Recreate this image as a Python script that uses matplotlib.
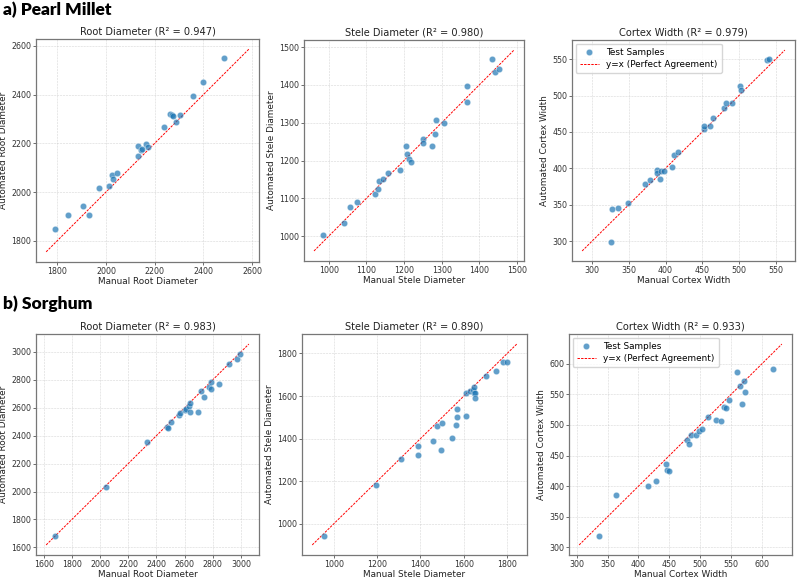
import matplotlib.pyplot as plt
import numpy as np

# pearl millet - manual vs automated
pm_root_manual = [1792, 1844, 1905, 1929, 1970, 2012, 2026, 2027, 2044, 2131, 2131, 2142, 2149,
                  2164, 2174, 2237, 2261, 2271, 2274, 2286, 2303, 2357, 2397, 2484]
pm_root_auto = [1848, 1904, 1943, 1907, 2017, 2024, 2069, 2052, 2079, 2190, 2148, 2172, 2175,
                2196, 2185, 2269, 2322, 2315, 2311, 2288, 2318, 2394, 2453, 2549]

pm_stele_manual = [985, 1041, 1057, 1074, 1124, 1130, 1134, 1143, 1158, 1188, 1206, 1209, 1213,
                   1218, 1250, 1250, 1274, 1282, 1285, 1305, 1366, 1368, 1435, 1443, 1451]
pm_stele_auto = [1002, 1034, 1076, 1090, 1111, 1125, 1146, 1151, 1168, 1175, 1239, 1218, 1203,
                 1196, 1257, 1246, 1239, 1269, 1306, 1299, 1398, 1355, 1468, 1433, 1442]

pm_cortex_manual = [326, 327, 335, 349, 372, 379, 388, 388, 393, 394, 398, 409, 411, 417, 452,
                    453, 460, 465, 480, 483, 490, 501, 503, 538, 541]
pm_cortex_auto = [299, 344, 345, 352, 378, 384, 398, 394, 386, 396, 397, 402, 418, 422, 454,
                  458, 458, 469, 483, 490, 490, 513, 507, 549, 550]

# sorghum
sg_root_manual = [1684, 2045, 2333, 2474, 2483, 2502, 2563, 2570, 2600, 2611, 2630, 2637, 2640,
                  2696, 2717, 2738, 2776, 2785, 2790, 2841, 2918, 2970, 2991]
sg_root_auto = [1683, 2032, 2355, 2460, 2454, 2499, 2549, 2563, 2582, 2592, 2616, 2634, 2568,
                2571, 2722, 2680, 2751, 2734, 2784, 2772, 2915, 2950, 2986]

sg_stele_manual = [955, 1195, 1310, 1387, 1387, 1459, 1475, 1497, 1494, 1547, 1563, 1568, 1570,
                   1610, 1611, 1628, 1642, 1646, 1647, 1651, 1651, 1700, 1746, 1781, 1801]
sg_stele_auto = [944, 1184, 1306, 1364, 1325, 1389, 1458, 1475, 1347, 1403, 1466, 1541, 1500,
                 1504, 1613, 1623, 1629, 1640, 1616, 1612, 1593, 1696, 1717, 1761, 1759]

sg_cortex_manual = [337, 363, 416, 428, 445, 446, 450, 478, 482, 485, 493, 498, 503, 513, 525,
                    534, 538, 541, 547, 559, 567, 565, 570, 573, 617]
sg_cortex_auto = [319, 386, 400, 408, 436, 426, 424, 476, 469, 484, 483, 490, 493, 513, 508,
                  507, 529, 528, 541, 587, 534, 564, 572, 553, 591]

traits = ["Root Diameter", "Stele Diameter", "Cortex Width"]
pm_r2 = [0.947, 0.980, 0.979]
sg_r2 = [0.983, 0.890, 0.933]

W, H = 797, 578
fig = plt.figure(figsize=(W / 100, H / 100), dpi=100)

# axes boxes in pixels: left, top, right, bottom
boxes = [
    [(36, 39, 259, 262), (304, 40, 524, 261), (572, 40, 795, 261)],
    [(36, 334, 259, 555), (302, 334, 527, 555), (569, 334, 792, 555)],
]
steps = [[200, 100, 50], [200, 200, 50]]

rows = [
    [(pm_root_manual, pm_root_auto), (pm_stele_manual, pm_stele_auto), (pm_cortex_manual, pm_cortex_auto)],
    [(sg_root_manual, sg_root_auto), (sg_stele_manual, sg_stele_auto), (sg_cortex_manual, sg_cortex_auto)],
]
r2s = [pm_r2, sg_r2]

for r in range(2):
    for c in range(3):
        l, t, rr, b = boxes[r][c]
        ax = fig.add_axes([l / W, 1 - b / H, (rr - l) / W, (b - t) / H])
        x = np.array(rows[r][c][0])
        y = np.array(rows[r][c][1])

        ax.scatter(x, y, s=21, color="#1f77b4", alpha=0.7, edgecolors="white",
                   linewidths=0.3, label="Test Samples", zorder=3)

        lo = min(x.min(), y.min())
        hi = max(x.max(), y.max())
        pad = 0.05 * (hi - lo)
        ax.plot([lo - pad, hi + pad], [lo - pad, hi + pad], "r--", lw=0.7,
                dashes=(2.5, 1.2), label="y=x (Perfect Agreement)", zorder=2)

        ax.xaxis.set_major_locator(plt.MultipleLocator(steps[r][c]))
        ax.yaxis.set_major_locator(plt.MultipleLocator(steps[r][c]))

        ax.set_title(f"{traits[c]} (R² = {r2s[r][c]:.3f})", fontsize=7.1, pad=3, color="#222222")
        ax.set_xlabel(f"Manual {traits[c]}", fontsize=6.4, labelpad=1, color="#222222")
        ax.set_ylabel(f"Automated {traits[c]}", fontsize=6.4, labelpad=2, color="#222222")
        ax.tick_params(labelsize=5.7, length=2, width=0.5, pad=1.5, colors="#333333")
        ax.grid(True, linestyle="--", linewidth=0.4, color="#bbbbbb", alpha=0.6)
        for sp in ax.spines.values():
            sp.set_color("#777777")
            sp.set_linewidth(0.9)

        if c == 2:
            ax.legend(loc="upper left", fontsize=6.4, frameon=True, framealpha=0.8,
                      edgecolor="#cccccc", borderpad=0.45, handlelength=2.2,
                      labelspacing=0.35, borderaxespad=0.4)

fig.text(3 / W, 1 - 2 / H, "a) Pearl Millet", fontsize=12.5, fontweight="heavy",
         family="Lato", va="top", ha="left")
fig.text(3 / W, 1 - 295 / H, "b) Sorghum", fontsize=12.5, fontweight="heavy",
         family="Lato", va="top", ha="left")

plt.savefig("out.png", dpi=100)
